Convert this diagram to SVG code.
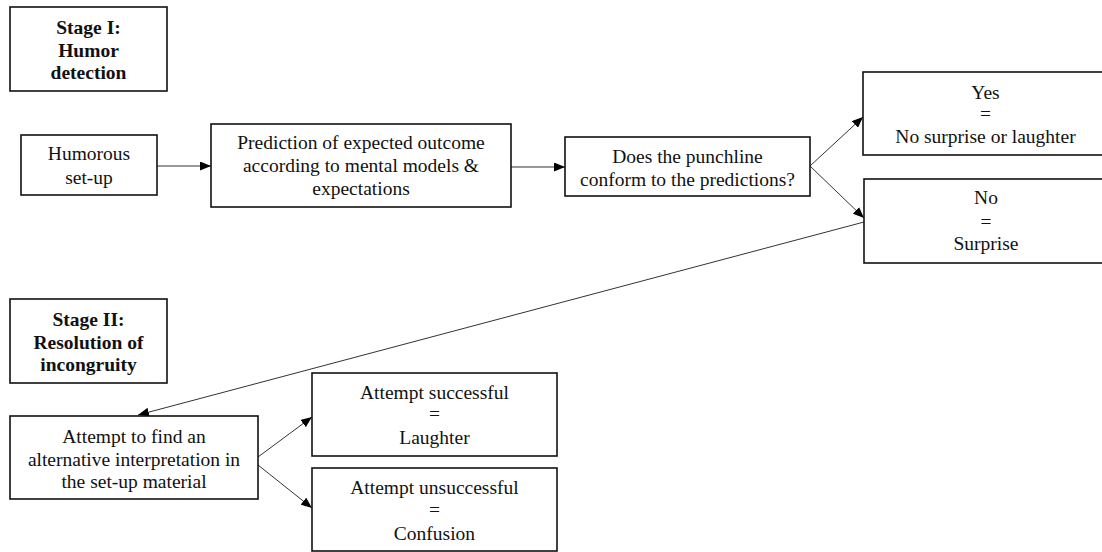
<svg xmlns="http://www.w3.org/2000/svg" width="1102" height="552" viewBox="0 0 1102 552">
<style>
.box{fill:#fff;stroke:#111;stroke-width:1.6}
.t{font-size:19.5px;fill:#111;text-anchor:middle}
.b{font-weight:bold}
.c{stroke:#333;stroke-width:1;fill:none;marker-end:url(#ah)}
</style>
<defs>
<marker id="ah" markerUnits="userSpaceOnUse" markerWidth="11" markerHeight="9" refX="11" refY="4.5" orient="auto">
<path d="M0,0 L11,4.5 L0,9 z" fill="#000"/>
</marker>
</defs>
<rect width="1102" height="552" fill="#fff"/>
<g id="connectors">
<line class="c" x1="157" y1="166" x2="211" y2="166"/>
<line class="c" x1="511" y1="167" x2="565" y2="167"/>
<line class="c" x1="810" y1="166" x2="863" y2="117"/>
<line class="c" x1="810" y1="166" x2="864" y2="218"/>
<line class="c" x1="864" y1="222" x2="138" y2="415"/>
<line class="c" x1="258" y1="457" x2="312" y2="417"/>
<line class="c" x1="258" y1="465" x2="312" y2="508"/>
</g>
<g font-family="Liberation Serif, Times New Roman, DejaVu Serif, serif">
<g id="stage1">
<rect class="box" x="10" y="7" width="157" height="84"/>
<text class="t b" x="88.5" y="34">Stage I:</text>
<text class="t b" x="88.5" y="57">Humor</text>
<text class="t b" x="88.5" y="79">detection</text>
</g>
<g id="setup">
<rect class="box" x="21" y="135" width="136" height="60"/>
<text class="t" x="89" y="160">Humorous</text>
<text class="t" x="89" y="184">set-up</text>
</g>
<g id="prediction">
<rect class="box" x="211" y="124" width="300" height="83"/>
<text class="t" x="361" y="149">Prediction of expected outcome</text>
<text class="t" x="361" y="172">according to mental models &amp;</text>
<text class="t" x="361" y="195">expectations</text>
</g>
<g id="punchline">
<rect class="box" x="565" y="137" width="245" height="59"/>
<text class="t" x="687.5" y="163">Does the punchline</text>
<text class="t" x="687.5" y="186">conform to the predictions?</text>
</g>
<g id="yes">
<rect class="box" x="863" y="72" width="245" height="83"/>
<text class="t" x="985.5" y="99">Yes</text>
<text class="t" x="985.5" y="120">=</text>
<text class="t" x="985.5" y="143">No surprise or laughter</text>
</g>
<g id="no">
<rect class="box" x="864" y="179" width="244" height="84"/>
<text class="t" x="986" y="204">No</text>
<text class="t" x="986" y="228">=</text>
<text class="t" x="986" y="250">Surprise</text>
</g>
<g id="stage2">
<rect class="box" x="10" y="299" width="157" height="84"/>
<text class="t b" x="88.5" y="326">Stage II:</text>
<text class="t b" x="88.5" y="349">Resolution of</text>
<text class="t b" x="88.5" y="371">incongruity</text>
</g>
<g id="attempt">
<rect class="box" x="10" y="416" width="248" height="83"/>
<text class="t" x="134" y="443">Attempt to find an</text>
<text class="t" x="134" y="466">alternative interpretation in</text>
<text class="t" x="134" y="488">the set-up material</text>
</g>
<g id="success">
<rect class="box" x="312" y="373" width="245" height="83"/>
<text class="t" x="434.5" y="399">Attempt successful</text>
<text class="t" x="434.5" y="420">=</text>
<text class="t" x="434.5" y="444">Laughter</text>
</g>
<g id="failure">
<rect class="box" x="312" y="468" width="245" height="83"/>
<text class="t" x="434.5" y="494">Attempt unsuccessful</text>
<text class="t" x="434.5" y="516">=</text>
<text class="t" x="434.5" y="540">Confusion</text>
</g>
</g>
</svg>
